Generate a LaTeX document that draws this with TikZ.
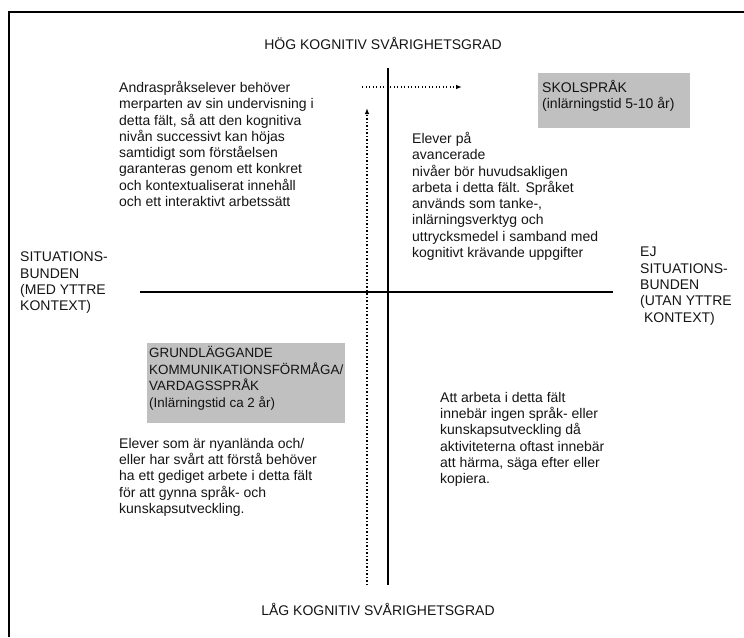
\documentclass[tikz,border=0pt]{standalone}
\usepackage{fontspec}
\setmainfont{Liberation Sans}
\usetikzlibrary{arrows.meta}
\definecolor{txt}{RGB}{20,20,20}
\definecolor{boxgray}{RGB}{192,192,192}
\begin{document}
\begin{tikzpicture}[x=1pt,y=-1pt,
  lbl/.style={anchor=north west, inner sep=0pt, align=left, font=\fontsize{14}{16.3}\selectfont, text=txt},
  boxlbl/.style={lbl, font=\fontsize{13.4}{16.6}\selectfont},
  ttl/.style={inner sep=0pt, font=\fontsize{14}{16.3}\selectfont, text=txt},
  axisline/.style={line width=2.2pt, black},
  dots/.style={dash pattern=on 1.1pt off 2.4pt, line width=1.1pt, -{Latex[length=6pt,width=4.5pt]}},
  graybox/.style={fill=boxgray, draw=none, inner sep=0pt, anchor=north west}]
\useasboundingbox (0,0) rectangle (744,637);
% frame
\draw[line width=2pt] (9,637) -- (9,12) -- (744,12);
% titles
\node[ttl] (hog) at (383,43) {HÖG KOGNITIV SVÅRIGHETSGRAD};
\node[ttl] (lag) at (378,609) {LÅG KOGNITIV SVÅRIGHETSGRAD};
% axes
\coordinate (vtop) at (388,68);
\coordinate (vbot) at (388,585);
\coordinate (hl) at (140,292);
\coordinate (hr) at (613,292);
\draw[axisline] (vtop) -- (vbot);
\draw[axisline] (hl) -- (hr);
% dotted arrows
\coordinate (ha) at (362,87);
\coordinate (hb) at (462,87);
\coordinate (va) at (367,585);
\coordinate (vb) at (367,108);
\draw[dots] (ha) -- (hb);
\draw[dots] (va) -- (vb);
% gray boxes
\node[graybox, minimum width=152pt, minimum height=55pt] (skolbox) at (538,73) {};
\node[lbl] (skol) at (542,80) {SKOLSPRÅK\\(inlärningstid 5-10 år)};
\node[graybox, minimum width=198pt, minimum height=80pt] (grundbox) at (147,343) {};
\node[boxlbl] (grund) at (149,346) {GRUNDLÄGGANDE\\KOMMUNIKATIONSFÖRMÅGA/\\VARDAGSSPRÅK\\(Inlärningstid ca 2 år)};
% quadrant texts
\node[lbl] (q1) at (119,81) {Andraspråkselever behöver\\merparten av sin undervisning i\\detta fält, så att den kognitiva\\nivån successivt kan höjas\\samtidigt som förståelsen\\garanteras genom ett konkret\\och kontextualiserat innehåll\\och ett interaktivt arbetssätt};
\node[lbl] (q2) at (412,132) {Elever på\\avancerade\\nivåer bör huvudsakligen\\arbeta i detta fält. Språket\\används som tanke-,\\inlärningsverktyg och\\uttrycksmedel i samband med\\kognitivt krävande uppgifter};
\node[lbl] (q3) at (119,438) {Elever som är nyanlända och/\\eller har svårt att förstå behöver\\ha ett gediget arbete i detta fält\\för att gynna språk- och\\kunskapsutveckling.};
\node[lbl] (q4) at (440,392) {Att arbeta i detta fält\\innebär ingen språk- eller\\kunskapsutveckling då\\aktiviteterna oftast innebär\\att härma, säga efter eller\\kopiera.};
% side labels
\node[lbl] (left) at (20,252) {SITUATIONS-\\BUNDEN\\(MED YTTRE\\KONTEXT)};
\node[lbl] (right) at (640,247) {EJ\\SITUATIONS-\\BUNDEN\\(UTAN YTTRE\\\ KONTEXT)};
\end{tikzpicture}
\end{document}
